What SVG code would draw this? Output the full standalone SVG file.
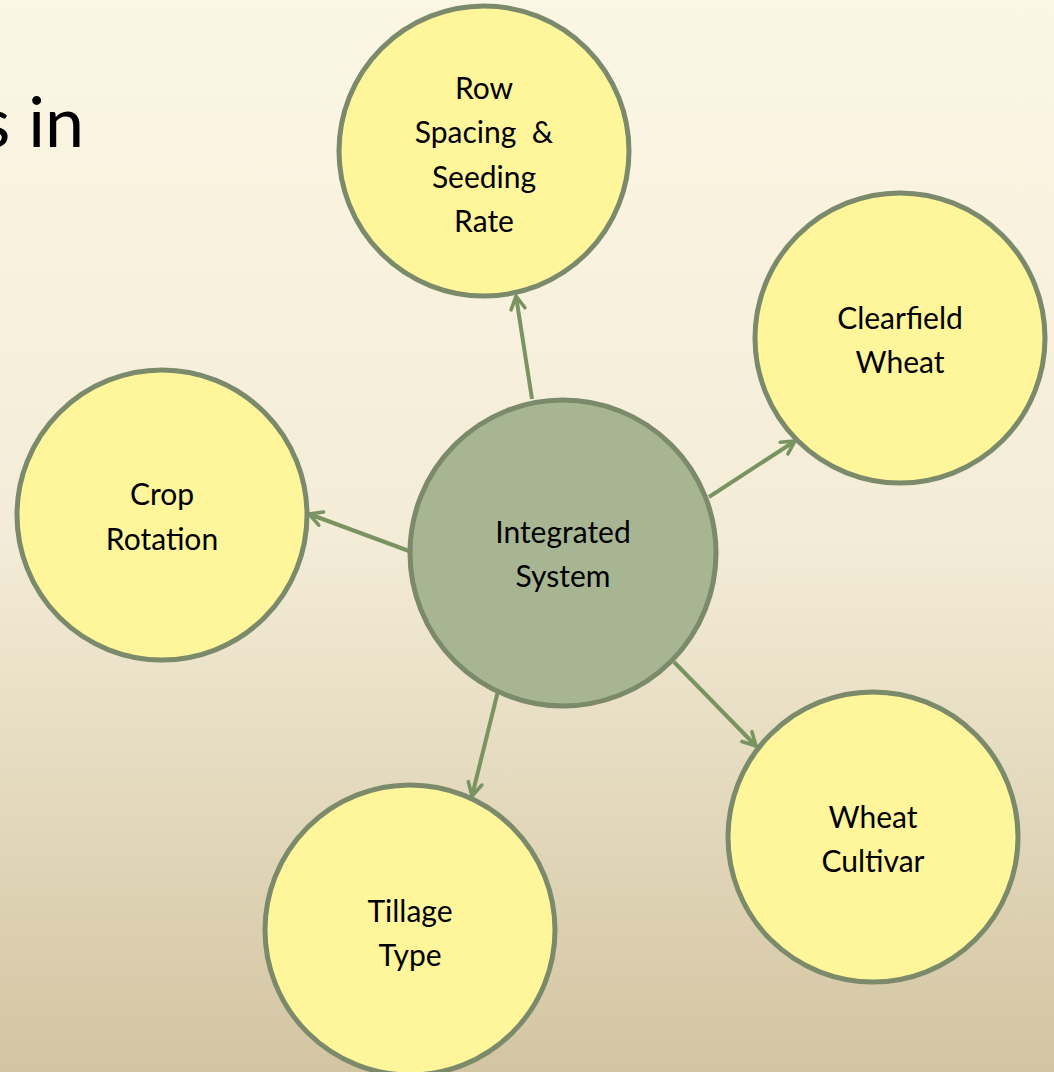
<svg xmlns="http://www.w3.org/2000/svg" width="1054" height="1072" viewBox="0 0 1054 1072">
<defs>
<linearGradient id="bg" x1="0" y1="0" x2="0" y2="1">
<stop offset="0" stop-color="#FCF7E5"/>
<stop offset="0.5" stop-color="#F3ECD7"/>
<stop offset="1" stop-color="#D3C5A2"/>
</linearGradient>
<marker id="arr" viewBox="0 0 20 20" refX="17" refY="10" markerWidth="20" markerHeight="20" markerUnits="userSpaceOnUse" orient="auto">
<path d="M4,3 L17,10 L4,17" fill="none" stroke="#7A9461" stroke-width="3.6" stroke-linecap="round" stroke-linejoin="round"/>
</marker>
<style>
.n{fill:#FFF59A;stroke:#7A8A6A;stroke-width:5}
.c{fill:#A8B593;stroke:#7A8A6A;stroke-width:5}
.t{font-family:Lato,"Open Sans","Liberation Sans",sans-serif;font-size:30px;fill:#000;text-anchor:middle;white-space:pre}
.e{stroke:#7A9461;stroke-width:4;fill:none;marker-end:url(#arr)}
</style>
</defs>
<rect width="1054" height="1072" fill="url(#bg)"/>
<text x="84" y="147" font-family="Lato,'Open Sans','Liberation Sans',sans-serif" font-size="70" text-anchor="end" fill="#000">s in</text>
<g id="connectors">
<line class="e" x1="532" y1="399" x2="516" y2="296"/>
<line class="e" x1="709" y1="497" x2="795" y2="441"/>
<line class="e" x1="409" y1="551" x2="309" y2="514"/>
<line class="e" x1="498" y1="691" x2="472" y2="796"/>
<line class="e" x1="674" y1="662" x2="756" y2="746"/>
</g>
<g id="row-spacing">
<circle class="n" cx="484" cy="151" r="145"/>
<text class="t" x="484" y="99">Row</text>
<text class="t" x="484" y="143" xml:space="preserve">Spacing  &amp;</text>
<text class="t" x="484" y="188">Seeding</text>
<text class="t" x="484" y="232">Rate</text>
</g>
<g id="clearfield-wheat">
<circle class="n" cx="900" cy="338" r="145"/>
<text class="t" x="900" y="329">Clearfield</text>
<text class="t" x="900" y="373">Wheat</text>
</g>
<g id="crop-rotation">
<circle class="n" cx="162" cy="515" r="145"/>
<text class="t" x="162" y="505">Crop</text>
<text class="t" x="162" y="550">Rotation</text>
</g>
<g id="integrated-system">
<circle class="c" cx="563" cy="553" r="153"/>
<text class="t" x="563" y="543">Integrated</text>
<text class="t" x="563" y="587">System</text>
</g>
<g id="wheat-cultivar">
<circle class="n" cx="873" cy="837" r="145"/>
<text class="t" x="873" y="828">Wheat</text>
<text class="t" x="873" y="872">Cultivar</text>
</g>
<g id="tillage-type">
<circle class="n" cx="410" cy="930" r="145"/>
<text class="t" x="410" y="922">Tillage</text>
<text class="t" x="410" y="966">Type</text>
</g>
</svg>
